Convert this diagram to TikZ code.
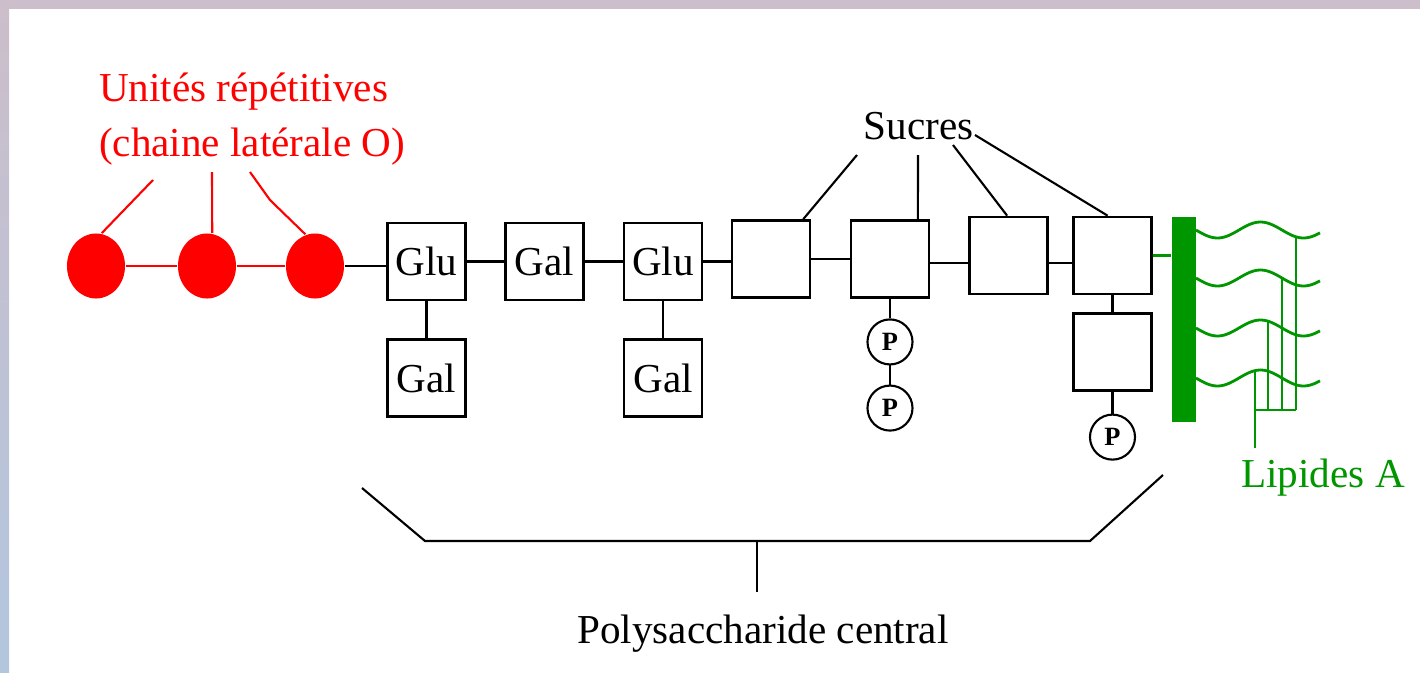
\documentclass[tikz,border=0pt]{standalone}
\usepackage{fontspec}
\setmainfont{Liberation Serif}
\usetikzlibrary{shapes.geometric,positioning}
\definecolor{lpsred}{RGB}{255,0,0}
\definecolor{lpsgreen}{RGB}{0,150,0}
\definecolor{slidelilac}{RGB}{204,190,202}
\definecolor{slideblue}{RGB}{178,198,222}

\begin{document}
\begin{tikzpicture}[
    x=0.01cm, y=-0.01cm,
    font=\fontsize{11.7}{15.6}\selectfont,
    line width=0.6pt,
    sugar/.style={draw, line width=0.75pt, minimum width=0.78cm, minimum height=0.77cm, inner sep=0pt},
    unit/.style={ellipse, fill=lpsred, minimum width=0.58cm, minimum height=0.65cm, inner sep=0pt},
    phos/.style={circle, draw, line width=0.6pt, minimum size=0.45cm, inner sep=0pt, font=\fontsize{7.5}{8}\selectfont\bfseries},
    lipid/.style={lpsgreen, line width=0.8pt}
]
% slide background
\fill[white] (0,0) rectangle (1420,672);
\useasboundingbox (0,0) rectangle (1420,672);
\fill[slidelilac] (0,0) rectangle (1420,9);
\shade[top color=slidelilac, bottom color=slideblue] (0,9) rectangle (9,672);

% O side chain
\node[unit] (u1) at (96,266) {};
\node[unit] (u2) at (207,266) {};
\node[unit] (u3) at (315,266) {};
\node[text=lpsred, align=left, anchor=north west, inner sep=0pt] (units) at (98,72) {Unités répétitives\\(chaine latérale O)};
\coordinate (r1) at (153,180);
\coordinate (r2) at (212,172);
\coordinate (r3) at (250,172);
\draw[lpsred] (r1) -- (u1.80);
\draw[lpsred] (r2) -- (u2.81);
\draw[lpsred] (r3) -- (270,200) -- (u3.107);
\draw[lpsred] (u1.east) -- (u2.west);
\draw[lpsred] (u2.east) -- (u3.west);

% core sugars
\node[sugar] (glu1) at (426.5,261.5) {Glu};
\node[sugar] (gal1) at (544.5,261.5) {Gal};
\node[sugar] (glu2) at (663,261.5) {Glu};
\node[sugar] (sug4) at (771,259) {};
\node[sugar] (sug5) at (890,259) {};
\node[sugar] (sug6) at (1008.5,255.5) {};
\node[sugar] (sug7) at (1112.5,255.5) {};
\node[sugar, below=0.37cm of glu1] (gal2) {Gal};
\node[sugar, below=0.37cm of glu2] (gal3) {Gal};
\node[sugar, below=0.17cm of sug7] (sug8) {};
\node[phos, below=0.195cm of sug5] (p1) {P};
\node[phos, below=0.19cm of p1] (p2) {P};
\node[phos, below=0.215cm of sug8] (p3) {P};

\draw (u3.east) -- (u3.east -| glu1.west);
\foreach \a/\b in {glu1/gal1, gal1/glu2, glu2/sug4, sug4/sug5}
  \draw (\a.east) -- (\a.east -| \b.west);
\draw ([yshift=-0.4mm]sug5.east) -- ([yshift=-0.4mm]sug5.east -| sug6.west);
\draw ([yshift=-0.75mm]sug6.east) -- ([yshift=-0.75mm]sug6.east -| sug7.west);
\foreach \a/\b in {glu1/gal2, glu2/gal3, sug7/sug8, sug8/p3, sug5/p1, p1/p2}
  \draw (\a.south) -- (\b.north);

% Sucres label
\node[anchor=base, inner sep=0pt] (sucres) at (918.5,139) {Sucres};
\coordinate (s1) at (857,155);
\coordinate (s2) at (918,155);
\coordinate (s3) at (953,145);
\coordinate (s4) at (975,135);
\draw (s1) -- (sug4.51);
\draw (s2) -- (sug5.55);
\draw (s3) -- (sug6.92);
\draw (s4) -- (sug7.97);

% lipid A
\node[fill=lpsgreen, minimum width=0.24cm, minimum height=2.05cm, inner sep=0pt] (bar) at (1184,319.5) {};
\draw[lipid] (sug7.east) -- (sug7.east -| bar.west);
\foreach \w in {230,278,328,378}
  \draw[lipid] plot[domain=0:124, samples=50, smooth] ({1196+\x},{\w+8*sin(4.186*\x)});
\draw[lipid] (1296,236.8) -- (1296,410);
\draw[lipid] (1282,278) -- (1282,410);
\draw[lipid] (1268,321.2) -- (1268,410);
\draw[lipid] (1255,370.6) -- (1255,448);
\draw[lipid] (1255,410) -- (1296,410);
\node[text=lpsgreen, anchor=base, inner sep=0pt] (lipa) at (1323,487) {Lipides A};

% core bracket
\draw (362,488) -- (425,541) -- (1090,541) -- (1163,475);
\draw (757,541) -- (757,592);
\node[anchor=base, inner sep=0pt] (poly) at (763,643) {Polysaccharide central};
\end{tikzpicture}
\end{document}
